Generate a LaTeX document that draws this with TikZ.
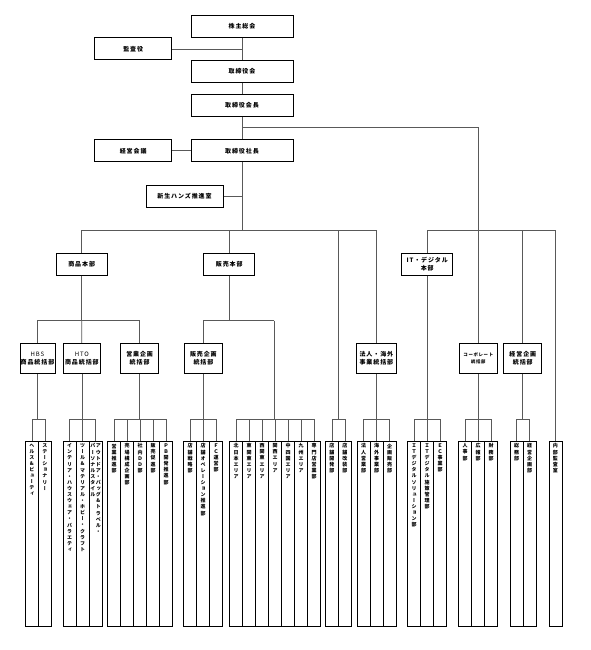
\documentclass[tikz,border=0pt]{standalone}
\usepackage{fontspec}
\setmainfont{Noto Sans CJK JP}
\newfontfamily\boxfont[LetterSpace=15]{Noto Sans CJK JP}
\newfontfamily\vfont[RawFeature=+vert]{Noto Sans CJK JP}
\ExplSyntaxOn
\NewDocumentCommand\vstack{m}{
  \vtop{\baselineskip=6.1pt \lineskiplimit=-100pt \lineskip=0pt
    \tl_map_inline:nn {#1} {\hbox_to_wd:nn{5.6pt}{\hss##1\hss}}}
}
\ExplSyntaxOff
\tikzset{
  box/.style={draw=black, line width=1pt, fill=white, align=center, inner sep=0pt,
    font=\boxfont\bfseries\fontsize{6}{7.5}\selectfont},
  colbox/.style={draw=black, line width=0.8pt, minimum width=13pt, minimum height=185pt,
    anchor=north west, inner sep=0pt},
  vt/.style={font=\vfont\bfseries\fontsize{5}{6}\selectfont, inner sep=0pt, anchor=north},
  conn/.style={draw=black!65, line width=0.8pt},
}
% #1 id, #2 left x, #3 parent, #4 texts
\newcommand\colgroup[4]{%
  \foreach \lbl [count=\i] in {#4}{%
    \node[colbox] (#1-\i) at ({#2+13*(\i-1)},441) {};
    \node[vt] (#1-\i-t) at ([yshift=-2.5pt]#1-\i.north) {\expandafter\vstack\expandafter{\lbl}};
    \xdef\ncols{\i}%
  }
  \coordinate (#1-j) at (#3 |- 0,419);
  \draw[conn] (#3) -- (#1-j);
  \draw[conn] (#1-1.north |- #1-j) -- (#1-\ncols.north |- #1-j);
  \foreach \k in {1,...,\ncols} \draw[conn] (#1-\k.north) -- (#1-\k.north |- #1-j);
}
\begin{document}
\begin{tikzpicture}[x=1pt,y=-1pt]
\useasboundingbox (0,0) rectangle (590,650);
% top boxes
\node[box, minimum width=102, minimum height=22] (kabu) at (242,26.2) {株主総会};
\node[box, minimum width=77, minimum height=22] (kansa) at (133.2,49) {監査役};
\node[box, minimum width=102, minimum height=22] (torikai) at (242,71.5) {取締役会};
\node[box, minimum width=102, minimum height=22] (kaicho) at (242,105.3) {取締役会長};
\node[box, minimum width=77, minimum height=22] (keiei) at (133.2,150.8) {経営会議};
\node[box, minimum width=102, minimum height=22] (shacho) at (242,150.8) {取締役社長};
\node[box, minimum width=77, minimum height=22] (shinsei) at (184.5,196.3) {新生ハンズ推進室};
% honbu
\node[box, minimum width=51, minimum height=22] (shohin) at (81.7,264) {商品本部};
\node[box, minimum width=51, minimum height=22] (hanbai) at (229.3,264) {販売本部};
\node[box, minimum width=51, minimum height=22] (it) at (427.2,264) {IT・デジタル\\本部};
% tokatsu
\node[box, minimum width=35, minimum height=30] (hbs) at (37.5,358.3) {{\mdseries HBS}\\商品統括部};
\node[box, minimum width=36.7, minimum height=30] (hto) at (81.9,358.3) {{\mdseries HTO}\\商品統括部};
\node[box, minimum width=37.6, minimum height=30] (eigyo) at (139.6,358.3) {営業企画\\統括部};
\node[box, minimum width=38.4, minimum height=30] (hkikaku) at (203.4,358.3) {販売企画\\統括部};
\node[box, minimum width=39.7, minimum height=30] (hojin) at (376.4,358.3) {法人・海外\\事業統括部};
\node[box, minimum width=38.6, minimum height=30, font=\boxfont\bfseries\fontsize{4.4}{7.5}\selectfont] (corp) at (478.3,358.3) {コーポレート\\統括部};
\node[box, minimum width=38.3, minimum height=30] (kkikaku) at (522.8,358.3) {経営企画\\統括部};
% upper connectors
\draw[conn] (kabu) -- (torikai);
\draw[conn] (kansa) -- (kansa -| kabu);
\draw[conn] (torikai) -- (kaicho);
\draw[conn] (kaicho) -- (shacho);
\draw[conn] (keiei) -- (shacho);
\draw[conn] (shinsei) -- (shinsei -| shacho);
\coordinate (rj) at (kaicho |- 0,127.7);
\draw[conn] (rj) -| (corp);
\coordinate (rh) at (corp |- 0,230);
\draw[conn] (it) |- (rh);
\draw[conn] (rh) -| (kkikaku);
\coordinate (naibu) at (555,230);
\draw[conn] (rh) -- (naibu);
\coordinate (sj) at (shacho |- 0,230);
\draw[conn] (shacho) -- (sj);
\draw[conn] (sj) -| (shohin);
\draw[conn] (sj) -| (hanbai);
\draw[conn] (sj) -| (hojin);
\coordinate (tenpo) at (338,230);
% shohin branch
\coordinate (pj) at (shohin |- 0,320.7);
\draw[conn] (shohin) -- (pj);
\draw[conn] (pj) -| (hbs);
\draw[conn] (pj) -| (eigyo);
\draw[conn] (pj) -- (hto);
% hanbai branch
\coordinate (hj) at (hanbai |- 0,320.7);
\draw[conn] (hanbai) -- (hj);
\draw[conn] (hj) -| (hkikaku);
\coordinate (area) at (274.3,320.7);
\draw[conn] (hj) -- (area);
% columns
\colgroup{g1}{25}{hbs}{ヘルス\&ビューティ,ステーショナリー}
\colgroup{g2}{62.7}{hto}{インテリア・ハウスウェア・バラエティ,ツール\&マテリアル・ホビー・クラフト,{}}
\node[vt] (g2-3-u) at ([yshift=-2.5pt]g2-3.north) {\vstack{パーソナルスタイル}\vstack{アウトドア・バッグ\&トラベル・}};
\colgroup{g3}{107.3}{eigyo}{営業推進部,売場構成企画部,社内ＤＤ部,販売促進部,ＰＢ開発推進部}
\colgroup{g4}{183.3}{hkikaku}{店舗戦略部,店舗オペレーション推進部,ＦＣ運営部}
\colgroup{g5}{229.3}{area}{北日本エリア,東関東エリア,西関東エリア,関西エリア,中四国エリア,九州エリア,専門店営業部}
\colgroup{g6}{325}{tenpo}{店舗開発部,店舗改装部}
\colgroup{g7}{356.7}{hojin}{法人営業部,海外事業部,企画販売部}
\colgroup{g8}{407.3}{it}{ＩＴデジタルソリューション部,ＩＴデジタル施策管理部,ＥＣ事業部}
\colgroup{g9}{458.3}{corp}{人事部,広報部,財務部}
\colgroup{g10}{509.7}{kkikaku}{総務部,経営企画部}
\colgroup{g11}{548.5}{naibu}{内部監査室}
\end{tikzpicture}
\end{document}
